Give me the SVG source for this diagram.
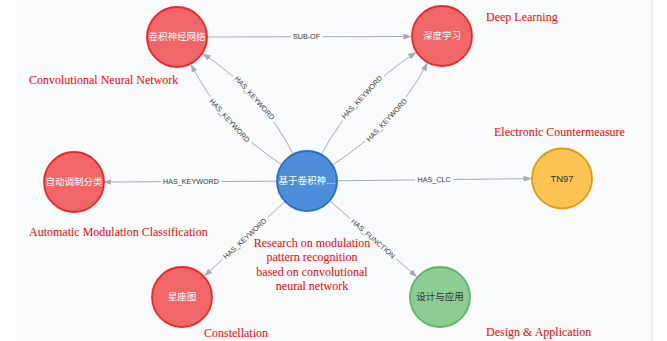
<svg xmlns="http://www.w3.org/2000/svg" width="667" height="341" viewBox="0 0 667 341">
<style>
.edge{fill:none;stroke:#a5abb6;stroke-width:1}
.elabel{font-family:"Liberation Sans",Arial,Helvetica,sans-serif;font-size:7.2px;fill:#3a3a3a;text-anchor:middle;stroke:#f9fbfd;stroke-width:6;stroke-linejoin:round;paint-order:stroke}
.ann{font-family:"Liberation Serif","Times New Roman",serif;font-size:12px;fill:#ff0000}
.ntext{font-family:"Liberation Sans","Noto Sans CJK SC",sans-serif;font-size:9.5px;text-anchor:middle}
.red{fill:#f16667;stroke:#eb2728;stroke-width:1.8}
.blue{fill:#4c8eda;stroke:#2870c2;stroke-width:1.8}
.yellow{fill:#ffc454;stroke:#d7a013;stroke-width:1.8}
.green{fill:#8dcc93;stroke:#5db665;stroke-width:1.8}
.light{fill:#ffffff}
.dark{fill:#333333}
</style>
<defs>
<marker id="arr" viewBox="0 0 8 6" refX="7.5" refY="3" markerWidth="8" markerHeight="6" markerUnits="userSpaceOnUse" orient="auto">
<path d="M0,0 L8,3 L0,6 Z" fill="#a5abb6"/>
</marker>
</defs>
<rect x="0" y="0" width="667" height="341" fill="#ffffff"/>
<rect x="15" y="0" width="637" height="341" fill="#f9fbfd"/>
<line x1="652" y1="0" x2="652" y2="341" stroke="#e6e8ec" stroke-width="1"/>

<g id="connectors">
<path class="edge" d="M208,37 L411,36.5" marker-end="url(#arr)"/>
<text class="elabel" transform="translate(306.5,36.8)" dy="2.5">SUB-OF</text>

<path class="edge" d="M281.8,164.7 Q222.7,126.4 191.1,64.6" marker-end="url(#arr)"/>
<text class="elabel" transform="translate(229.6,120.5) rotate(48)" dy="2.5">HAS_KEYWORD</text>
<path class="edge" d="M293.3,154.3 Q261.3,91.6 203,53.9" marker-end="url(#arr)"/>
<text class="elabel" transform="translate(254.7,97.9) rotate(48)" dy="2.5">HAS_KEYWORD</text>

<path class="edge" d="M321.2,154.6 Q355.5,90.8 415.8,52.6" marker-end="url(#arr)"/>
<text class="elabel" transform="translate(362,97.2) rotate(-47)" dy="2.5">HAS_KEYWORD</text>
<path class="edge" d="M332.4,165 Q393.5,126.2 427.3,63.3" marker-end="url(#arr)"/>
<text class="elabel" transform="translate(386.7,120.2) rotate(-47)" dy="2.5">HAS_KEYWORD</text>

<path class="edge" d="M277,181.2 L104,182" marker-end="url(#arr)"/>
<text class="elabel" transform="translate(191,181.6)" dy="2.5">HAS_KEYWORD</text>

<path class="edge" d="M337,180.8 L531,178.6" marker-end="url(#arr)"/>
<text class="elabel" transform="translate(434,179.7) rotate(-0.6)" dy="2.5">HAS_CLC</text>

<path class="edge" d="M285,201.4 L204.7,275.9" marker-end="url(#arr)"/>
<text class="elabel" transform="translate(244.9,238.6) rotate(-42.9)" dy="2.5">HAS_KEYWORD</text>

<path class="edge" d="M329.6,200.7 L416.6,276.6" marker-end="url(#arr)"/>
<text class="elabel" transform="translate(373.1,238.6) rotate(41.1)" dy="2.5">HAS_FUNCTION</text>
</g>

<g id="node-cnn">
<circle class="red" cx="177" cy="37" r="30"/>
<text class="ntext light" x="177" y="40.3">卷积神经网络</text>
</g>
<g id="node-dl">
<circle class="red" cx="442" cy="36" r="30"/>
<text class="ntext light" x="442" y="39.3">深度学习</text>
</g>
<g id="node-paper">
<circle class="blue" cx="307" cy="181" r="30"/>
<text class="ntext light" x="307" y="184.3">基于卷积神…</text>
</g>
<g id="node-amc">
<circle class="red" cx="74" cy="182" r="30"/>
<text class="ntext light" x="74" y="185.3">自动调制分类</text>
</g>
<g id="node-tn97">
<circle class="yellow" cx="562" cy="178.5" r="30"/>
<text class="ntext dark" x="562" y="181.8">TN97</text>
</g>
<g id="node-const">
<circle class="red" cx="182" cy="297" r="30"/>
<text class="ntext light" x="182" y="300.3">星座图</text>
</g>
<g id="node-design">
<circle class="green" cx="440" cy="297" r="30"/>
<text class="ntext dark" x="440" y="300.3">设计与应用</text>
</g>

<g id="annotations">
<text class="ann" x="486" y="21">Deep Learning</text>
<text class="ann" x="29" y="84">Convolutional Neural Network</text>
<text class="ann" x="494" y="136">Electronic Countermeasure</text>
<text class="ann" x="29" y="236">Automatic Modulation Classification</text>
<text class="ann" text-anchor="middle" x="312" y="247"><tspan x="312">Research on modulation</tspan><tspan x="312" dy="14.3">pattern recognition</tspan><tspan x="312" dy="14.3">based on convolutional</tspan><tspan x="312" dy="14.3">neural network</tspan></text>
<text class="ann" x="204" y="337">Constellation</text>
<text class="ann" x="486" y="336">Design &amp; Application</text>
</g>
</svg>
